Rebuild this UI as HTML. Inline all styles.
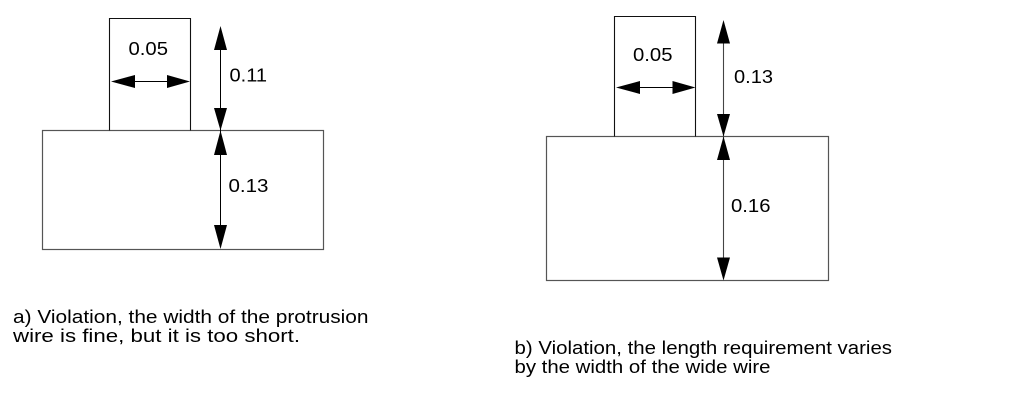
<!DOCTYPE html>
<html>
<head>
<meta charset="utf-8">
<style>
  html,body{margin:0;padding:0;background:#fff;}
  svg{display:block;}
  text{font-family:"Liberation Sans",Arial,Helvetica,sans-serif;font-size:18px;fill:#000;}
</style>
</head>
<body>
<svg width="1013" height="412" viewBox="0 0 1013 412" xmlns="http://www.w3.org/2000/svg">
  <rect x="0" y="0" width="1013" height="412" fill="#fff"/>

  <!-- ===== Diagram a ===== -->
  <rect x="42.5" y="130.5" width="281" height="119" fill="none" stroke="#555" stroke-width="1.2"/>
  <polyline points="109.5,130.5 109.5,18.5 190.5,18.5 190.5,130.5" fill="none" stroke="#111" stroke-width="1.1"/>

  <line x1="120" y1="81.5" x2="180" y2="81.5" stroke="#000" stroke-width="1"/>
  <polygon points="111,81.5 135,75 135,88" fill="#000"/>
  <polygon points="190,81.5 167,75 167,88" fill="#000"/>

  <line x1="220.5" y1="30" x2="220.5" y2="245" stroke="#000" stroke-width="1"/>
  <polygon points="220.5,26 214,50 227,50" fill="#000"/>
  <polygon points="220.5,130.5 214,108 227,108" fill="#000"/>
  <polygon points="220.5,130.5 214,155 227,155" fill="#000"/>
  <polygon points="220.5,249 214,225 227,225" fill="#000"/>

  <text x="128.5" y="55" textLength="39.5" lengthAdjust="spacingAndGlyphs">0.05</text>
  <text x="229.5" y="81.5" textLength="37.5" lengthAdjust="spacingAndGlyphs">0.11</text>
  <text x="228.5" y="192" textLength="40" lengthAdjust="spacingAndGlyphs">0.13</text>

  <text x="13" y="323" textLength="355.5" lengthAdjust="spacingAndGlyphs">a) Violation, the width of the protrusion</text>
  <text x="13" y="342" textLength="287" lengthAdjust="spacingAndGlyphs">wire is fine, but it is too short.</text>

  <!-- ===== Diagram b ===== -->
  <rect x="546.5" y="136.5" width="282" height="144" fill="none" stroke="#555" stroke-width="1.2"/>
  <polyline points="614.5,136.5 614.5,16.5 695.5,16.5 695.5,136.5" fill="none" stroke="#111" stroke-width="1.1"/>

  <line x1="625" y1="87.5" x2="686" y2="87.5" stroke="#000" stroke-width="1"/>
  <polygon points="616,87.5 640,81 640,94" fill="#000"/>
  <polygon points="695.5,87.5 672.5,81 672.5,94" fill="#000"/>

  <line x1="723.5" y1="24" x2="723.5" y2="276" stroke="#444" stroke-width="1.1"/>
  <polygon points="723.5,20 717,43.5 730,43.5" fill="#000"/>
  <polygon points="723.5,136.5 717,114 730,114" fill="#000"/>
  <polygon points="723.5,136.5 717,160 730,160" fill="#000"/>
  <polygon points="723.5,280.5 717,257.5 730,257.5" fill="#000"/>

  <text x="633" y="61" textLength="39.5" lengthAdjust="spacingAndGlyphs">0.05</text>
  <text x="734" y="83" textLength="39" lengthAdjust="spacingAndGlyphs">0.13</text>
  <text x="731" y="212" textLength="39.5" lengthAdjust="spacingAndGlyphs">0.16</text>

  <text x="514.5" y="354" textLength="377.5" lengthAdjust="spacingAndGlyphs">b) Violation, the length requirement varies</text>
  <text x="514.5" y="373" textLength="256" lengthAdjust="spacingAndGlyphs">by the width of the wide wire</text>
</svg>
</body>
</html>
